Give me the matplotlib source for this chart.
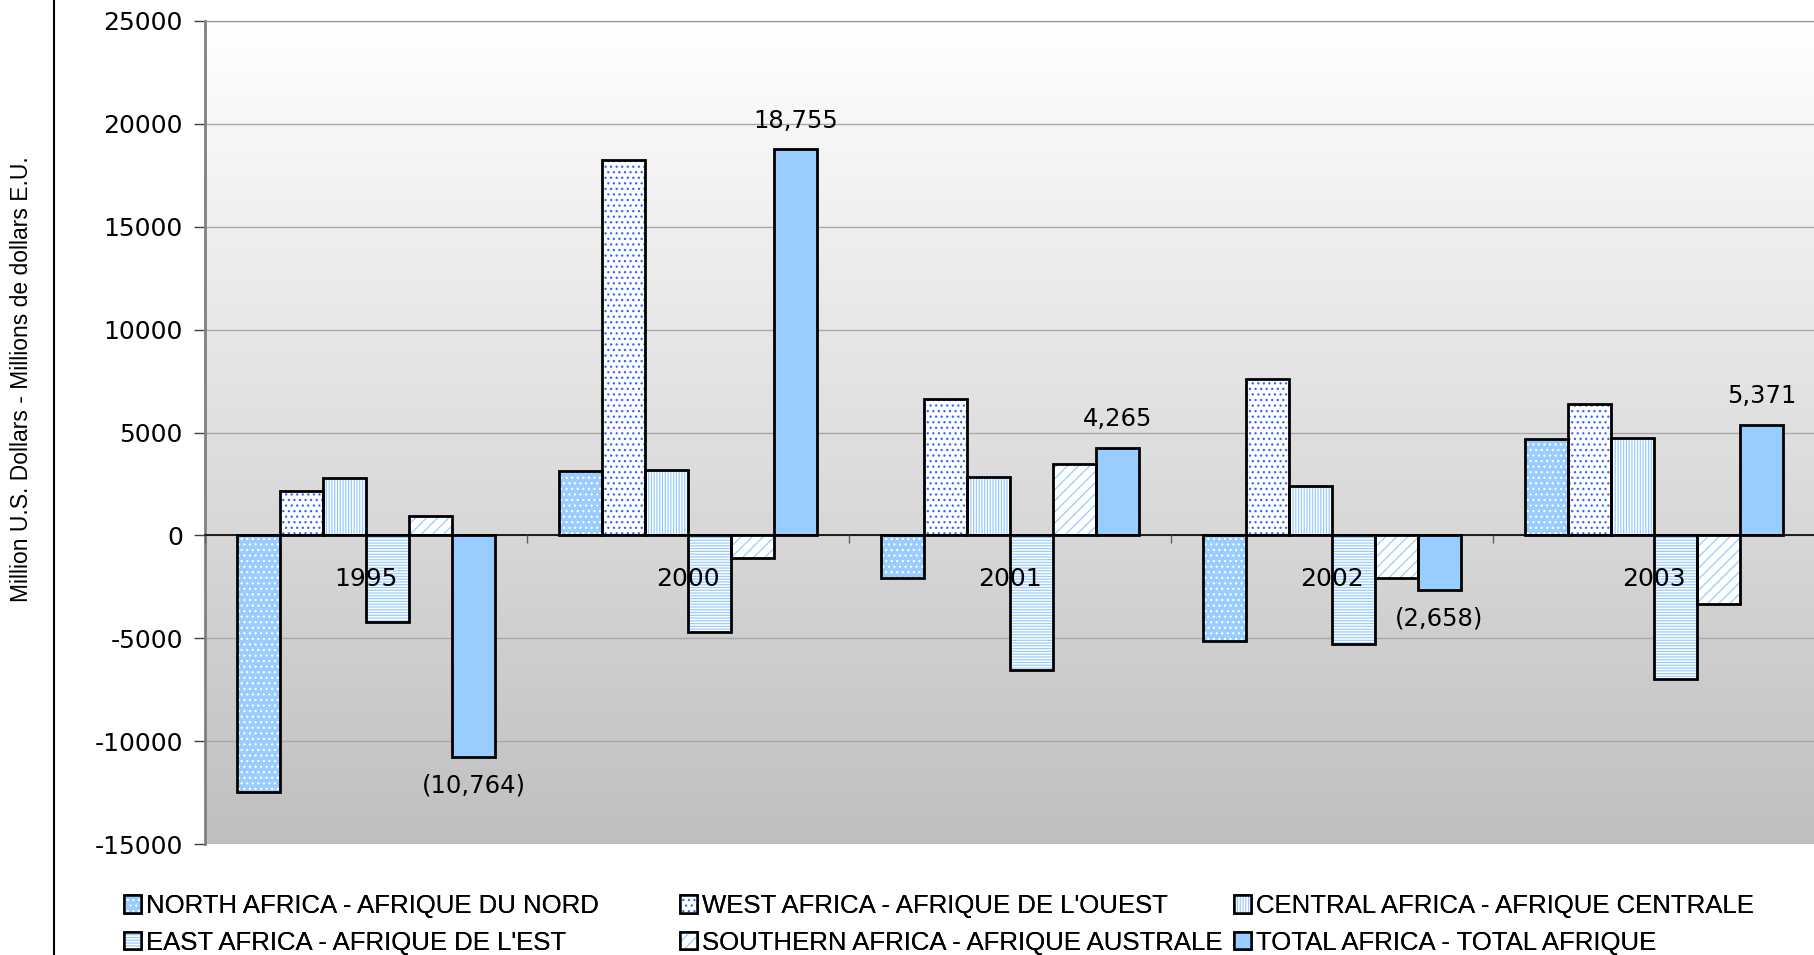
import matplotlib
matplotlib.use("Agg")
import matplotlib.pyplot as plt
import matplotlib.patches as mpatches
from matplotlib.lines import Line2D
from matplotlib.legend_handler import HandlerTuple
import numpy as np

years = ["1995", "2000", "2001", "2002", "2003"]
series_names = [
    "NORTH AFRICA - AFRIQUE DU NORD",
    "WEST AFRICA - AFRIQUE DE L'OUEST",
    "CENTRAL AFRICA - AFRIQUE CENTRALE",
    "EAST AFRICA - AFRIQUE DE L'EST",
    "SOUTHERN AFRICA - AFRIQUE AUSTRALE",
    "TOTAL AFRICA - TOTAL AFRIQUE",
]
north = [-12460, 3120, -2050, -5150, 4700]
west = [2170, 18260, 6610, 7620, 6390]
central = [2790, 3180, 2840, 2390, 4750]
east = [-4190, -4700, -6550, -5260, -7000]
southern = [930, -1100, 3460, -2050, -3350]
total = [-10764, 18755, 4265, -2658, 5371]
total_labels = ["(10,764)", "18,755", "4,265", "(2,658)", "5,371"]
yticks = [-15000, -10000, -5000, 0, 5000, 10000, 15000, 20000, 25000]

series = [north, west, central, east, southern, total]
LB = "#99CCFF"
styles = [
    dict(face=LB, hatch="...", hcol="white"),
    dict(face="white", hatch="...", hcol="#3366FF"),
    dict(face="white", hatch="||||||", hcol=LB),
    dict(face="white", hatch="------", hcol=LB),
    dict(face="white", hatch="///", hcol=LB),
    dict(face=LB, hatch=None, hcol=LB),
]

plt.rcParams["hatch.linewidth"] = 0.9
W, H = 1815, 955
fig = plt.figure(figsize=(W / 100, H / 100), dpi=100)
ax = fig.add_axes([205 / W, 1 - 844 / H, 1 - 205 / W, (844 - 21) / H])

ymin, ymax = -15000, 25000
n = len(years)
x = np.arange(n)
bw = 0.1336

# gradient background
grad = np.linspace(1, 0, 256).reshape(-1, 1)
top = np.array([1.0, 1.0, 1.0])
bot = np.array([0.75, 0.75, 0.75])
img = top[None, None, :] * grad[:, :, None] + bot[None, None, :] * (1 - grad[:, :, None])
ax.imshow(img, extent=[-0.5, n - 0.5, ymin, ymax], aspect="auto", zorder=0, origin="upper")

for yt in yticks:
    ax.axhline(yt, color="#A8A8A8", lw=1.0, zorder=1)

for i, (vals, st) in enumerate(zip(series, styles)):
    pos = x + (i - 2.5) * bw
    ax.bar(pos, vals, width=bw, color=st["face"], edgecolor=st["hcol"],
           hatch=st["hatch"], linewidth=0, zorder=2)
    ax.bar(pos, vals, width=bw, facecolor="none", edgecolor="black",
           linewidth=2.0, zorder=3)

# total labels
for xi, v, lab in zip(x + 2.5 * bw, total, total_labels):
    off = 800 if v >= 0 else -800
    ax.text(xi, v + off, lab, ha="center", va="bottom" if v >= 0 else "top",
            fontsize=17.5, family="DejaVu Sans", color="black", zorder=5)

ax.set_xlim(-0.5, n - 0.5)
ax.set_ylim(ymin, ymax)
ax.set_yticks(yticks)
ax.set_yticklabels([str(t) for t in yticks], fontsize=18, family="DejaVu Sans")
ax.tick_params(axis="y", length=8, width=1, color="#404040", pad=8)

ax.spines["bottom"].set_position(("data", 0))
ax.spines["bottom"].set_color("black")
ax.spines["bottom"].set_linewidth(1.2)
ax.spines["left"].set_color("#808080")
ax.spines["left"].set_linewidth(2)
ax.spines["top"].set_color("#909090")
ax.spines["right"].set_visible(False)

ax.set_xticks(x)
ax.set_xticklabels(years, fontsize=18, family="DejaVu Sans")
ax.tick_params(axis="x", which="major", length=0, pad=23)
ax.set_xticks(np.arange(n + 1) - 0.5, minor=True)
ax.tick_params(axis="x", which="minor", length=6, width=1, color="#606060", direction="out")
ax.xaxis.set_zorder(6)

# y label
fig.text(22 / W, 1 - 379 / H, "Million U.S. Dollars - Millions de dollars E.U.",
         rotation=90, ha="center", va="center", fontsize=16.5,
         family=["Liberation Sans", "DejaVu Sans"])

# vertical separator line
fig.add_artist(Line2D([54 / W, 54 / W], [0, 1], transform=fig.transFigure,
                      color="black", lw=1.5))

# legend: three columns, two rows (row-major reading order)
handles = []
for st in styles:
    fill = mpatches.Patch(facecolor=st["face"], edgecolor=st["hcol"],
                          hatch=st["hatch"], linewidth=0)
    edge = mpatches.Patch(facecolor="none", edgecolor="black", linewidth=1.8)
    handles.append((fill, edge))
col_x = [124, 680, 1234]
cols = [[0, 3], [1, 4], [2, 5]]
for cx, idx in zip(col_x, cols):
    leg = fig.legend([handles[i] for i in idx], [series_names[i] for i in idx],
                     handler_map={tuple: HandlerTuple(ndivide=1)},
                     loc="upper left", bbox_to_anchor=(cx / W, 1 - 894 / H),
                     frameon=False, handlelength=0.66, handleheight=0.66,
                     handletextpad=0.2, borderpad=0, borderaxespad=0,
                     labelspacing=0.5,
                     prop={"family": ["Liberation Sans", "DejaVu Sans"], "size": 18.5})
    fig.add_artist(leg)

fig.savefig("out.png", dpi=100)
